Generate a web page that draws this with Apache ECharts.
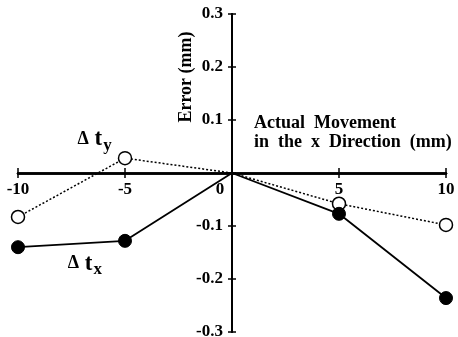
<!DOCTYPE html>
<html>
<head>
<meta charset="utf-8">
<script src="https://cdn.jsdelivr.net/npm/echarts@6/dist/echarts.min.js"></script>
<style>
  html, body { margin: 0; padding: 0; background: #fff; }
  #chart { width: 458px; height: 337px; }
</style>
</head>
<body>
<div id="chart"></div>
<script>
// Displacement along x (mm) and the resulting errors (mm)
const movement = [-10, -5, 0, 5, 10];
const errorTx = [-0.140, -0.128, 0, -0.077, -0.236];
const errorTy = [-0.083, 0.028, 0, -0.058, -0.098];

const xTicks = [-10, -5, 0, 5, 10];
const yTicks = [-0.3, -0.2, -0.1, 0, 0.1, 0.2, 0.3];

const FONT = '"Liberation Serif", "Times New Roman", serif';
const INK = '#000';

const W = 458, H = 337;
const GRID = { left: 18, right: 12, top: 14, bottom: 5 };

function pairs(ys) {
  return movement.map((x, i) => {
    const p = { value: [x, ys[i]] };
    if (x === 0) p.symbol = 'none';
    return p;
  });
}

const txData = pairs(errorTx);
const tyData = pairs(errorTy);

// Series annotations sit beside the -5 mm points
const labelRich = {
  d: { fontFamily: FONT, fontWeight: 'bold', fontSize: 18, color: INK },
  t: { fontFamily: FONT, fontWeight: 'bold', fontSize: 23, color: INK },
  s: { fontFamily: FONT, fontWeight: 'bold', fontSize: 17, color: INK, padding: [12, 0, 0, 1] }
};
tyData[1].label = {
  show: true, position: 'left', distance: 0, offset: [-6, -19],
  formatter: '{d|Δ}{t| t}{s|y}', rich: labelRich
};
txData[1].label = {
  show: true, position: 'left', distance: 0, offset: [-16, 23],
  formatter: '{d|Δ}{t| t}{s|x}', rich: labelRich
};

const axisLabelStyle = {
  fontFamily: FONT, fontWeight: 'bold', fontSize: 17, color: INK
};

function yLabel(v) {
  const r = Math.round(v * 10) / 10;
  return r === 0 ? '' : r.toFixed(1);
}

// Both axes cross at the origin: shift them inward from the grid edges
const xMin = xTicks[0], xMax = xTicks[xTicks.length - 1];
const yMin = yTicks[0], yMax = yTicks[yTicks.length - 1];
const gridW = W - GRID.left - GRID.right;
const gridH = H - GRID.top - GRID.bottom;
const yAxisShift = -gridW * (0 - xMin) / (xMax - xMin);   // from left edge
const xAxisShift = -gridH * (0 - yMin) / (yMax - yMin);   // from bottom edge

function xAxisDef(primary) {
  return {
    type: 'value', min: xMin, max: xMax, interval: 5,
    position: 'bottom', offset: xAxisShift,
    axisLine: { onZero: false, lineStyle: { color: INK, width: 2.5 } },
    axisTick: { show: true, inside: !primary, length: 5, lineStyle: { color: INK, width: 1.5 } },
    splitLine: { show: false },
    axisLabel: primary ? Object.assign({}, axisLabelStyle, {
      margin: 8,
      formatter: v => (v === 0 ? '{z|0}' : String(v)),
      rich: { z: Object.assign({}, axisLabelStyle, { padding: [0, 24, 12, 0] }) }
    }) : { show: false }
  };
}

function yAxisDef(primary) {
  return {
    type: 'value', min: yMin, max: yMax, interval: 0.1,
    position: 'left', offset: yAxisShift,
    axisLine: { onZero: false, lineStyle: { color: INK, width: 2 } },
    axisTick: { show: true, inside: !primary, length: 4, lineStyle: { color: INK, width: 1.5 } },
    splitLine: { show: false },
    axisLabel: primary ? Object.assign({}, axisLabelStyle, { margin: 9, formatter: yLabel }) : { show: false }
  };
}

const option = {
  animation: false,
  backgroundColor: '#fff',
  grid: Object.assign({ containLabel: false, outerBoundsMode: 'none' }, GRID),
  xAxis: [xAxisDef(true), xAxisDef(false)],
  yAxis: [yAxisDef(true), yAxisDef(false)],
  graphic: [
    {
      type: 'text', left: 254, top: 114,
      style: {
        text: 'Actual  Movement\nin  the  x  Direction  (mm)',
        fontFamily: FONT, fontWeight: 'bold', fontSize: 18, lineHeight: 19, fill: INK
      }
    },
    {
      type: 'text', x: 186, y: 77, rotation: Math.PI / 2,
      style: {
        text: 'Error (mm)', align: 'center', verticalAlign: 'middle',
        fontFamily: FONT, fontWeight: 'bold', fontSize: 18, fill: INK
      }
    }
  ],
  series: [
    {
      name: 'Δty', type: 'line', data: tyData,
      symbol: 'circle', symbolSize: 13,
      lineStyle: { color: INK, width: 1.5, type: [2, 2] },
      itemStyle: { color: '#fff', borderColor: INK, borderWidth: 1.5 },
      z: 3
    },
    {
      name: 'Δtx', type: 'line', data: txData,
      symbol: 'circle', symbolSize: 13,
      lineStyle: { color: INK, width: 1.8 },
      itemStyle: { color: INK, borderColor: INK, borderWidth: 1 },
      z: 4
    }
  ]
};

const chart = echarts.init(document.getElementById('chart'), null, { renderer: 'canvas' });
chart.setOption(option);
</script>
</body>
</html>
